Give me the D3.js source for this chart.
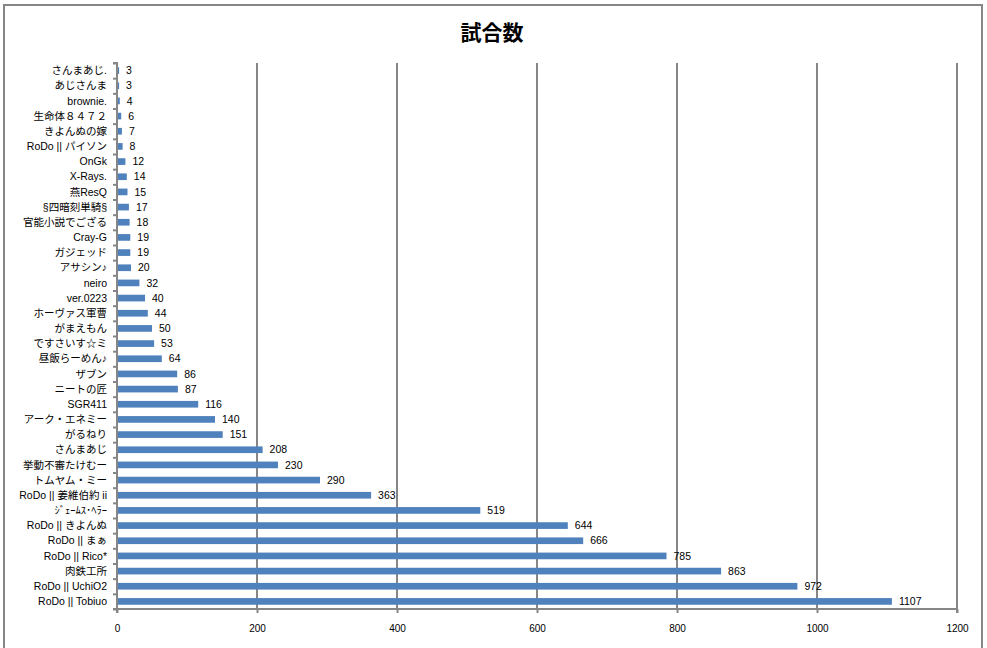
<!DOCTYPE html>
<html><head><meta charset="utf-8">
<script src="https://cdn.jsdelivr.net/npm/d3@7"></script>
<style>body{margin:0;background:#fff;} svg{display:block;}</style>
</head><body>
<svg id="c" width="987" height="648"></svg>
<script>
const title = "試合数";
const categories = ["さんまあじ.","あじさんま","brownie.","生命体８４７２","きよんぬの嫁","RoDo || パイソン","OnGk","X-Rays.","燕ResQ","§四暗刻単騎§","官能小説でござる","Cray-G","ガジェッド","アサシン♪","neiro","ver.0223","ホーヴァス軍曹","がまえもん","ですさいす☆ミ","昼飯らーめん♪","ザブン","ニートの匠","SGR411","アーク・エネミー","がるねり","さんまあじ","挙動不審たけむー","トムヤム・ミー","RoDo || 姜維伯約 ii","ｼﾞｪｰﾑｽ･ﾍﾗｰ","RoDo || きよんぬ","RoDo || まぁ","RoDo || Rico*","肉鉄工所","RoDo || UchiO2","RoDo || Tobiuo"];
const values = [3,3,4,6,7,8,12,14,15,17,18,19,19,20,32,40,44,50,53,64,86,87,116,140,151,208,230,290,363,519,644,666,785,863,972,1107];
const xTicks = [0,200,400,600,800,1000,1200];

const svg = d3.select("#c");
const font = "'Liberation Sans','Noto Sans CJK JP',sans-serif";
const grey = "#868686";

svg.append("rect").attr("x",4).attr("y",5).attr("width",978).attr("height",660)
  .attr("fill","#fff").attr("stroke",grey).attr("stroke-width",2);

svg.append("text").attr("x",492).attr("y",40).attr("text-anchor","middle")
  .attr("font-family","'Noto Sans CJK JP',sans-serif").attr("font-weight","bold")
  .attr("font-size",21).text(title);

const L=117, R=957, T=63, B=609;
const x = d3.scaleLinear().domain([0,1200]).range([L,R]);
const y = d3.scaleBand().domain(categories).range([T,B]).paddingInner(0.56).paddingOuter(0.28);

// gridlines
svg.append("g").selectAll("line").data(xTicks.slice(1)).join("line")
  .attr("x1",d=>x(d)).attr("x2",d=>x(d)).attr("y1",T).attr("y2",B)
  .attr("stroke",grey).attr("stroke-width",2);

// bars
svg.append("g").selectAll("rect").data(values).join("rect")
  .attr("x",L).attr("y",(d,i)=>y(categories[i]))
  .attr("width",d=>x(d)-L).attr("height",y.bandwidth())
  .attr("fill","#4f81bd");

// value labels
svg.append("g").selectAll("text").data(values).join("text")
  .attr("x",d=>x(d)+7).attr("y",(d,i)=>y(categories[i])+y.bandwidth()/2)
  .attr("dy","0.35em").attr("font-family",font).attr("font-size",10.5).attr("fill","#000")
  .text(d=>d);

// y axis
const yAxis = d3.axisLeft(d3.scaleLinear().domain([0,categories.length]).range([B,T]))
  .tickValues(d3.range(0,categories.length+1)).tickSize(4).tickFormat("");
const ya = svg.append("g").attr("transform",`translate(${L},0)`).call(yAxis);
ya.selectAll("line,path").attr("stroke",grey).attr("stroke-width",2);
ya.select(".domain").attr("d",`M-4,${T}H0V${B}H-4`);

// category labels
svg.append("g").selectAll("text").data(categories).join("text")
  .attr("x",L-10).attr("y",d=>y(d)+y.bandwidth()/2).attr("dy","0.35em")
  .attr("text-anchor","end").attr("font-family",font).attr("font-size",10.5).attr("fill","#000")
  .text(d=>d);

// x axis
const xAxis = d3.axisBottom(x).tickValues(xTicks).tickSize(4).tickPadding(12).tickFormat(d3.format("d"));
const xa = svg.append("g").attr("transform",`translate(0,${B})`).call(xAxis);
xa.selectAll("line,path").attr("stroke",grey).attr("stroke-width",2);
xa.select(".domain").attr("d",`M${L},4V0H${R}V4`);
xa.selectAll("text").attr("font-family",font).attr("font-size",10).attr("fill","#000");
</script>
</body></html>
